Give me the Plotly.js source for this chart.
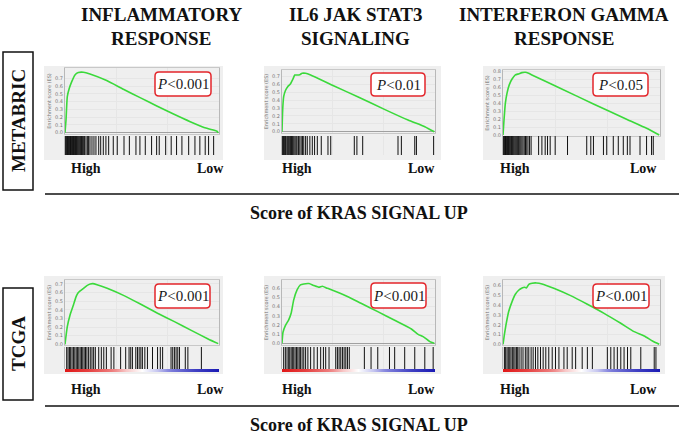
<!DOCTYPE html>
<html><head><meta charset="utf-8">
<script src="https://cdn.plot.ly/plotly-3.0.1.min.js"></script>
<style>html,body{margin:0;padding:0;background:#fff}#chart{width:679px;height:436px}</style>
</head><body><div id="chart"></div>
<script>
// ---------------- DATA ----------------
const columnTitles = [["INFLAMMATORY","RESPONSE"],["IL6 JAK STAT3","SIGNALING"],["INTERFERON GAMMA","RESPONSE"]];
const cohortLabels = ["METABRIC","TCGA"];
const pValueLabels = ["0.001","0.01","0.05","0.001","0.001","0.001"];
const endLabels = ["High","Low"];
const xAxisLabel = "Score of KRAS SIGNAL UP";
const esTickMax = [0.7,0.7,0.8,0.7,0.6,0.6];
const esAxisTitle = "Enrichment score (ES)";

// METABRIC - inflammatory response
const metabricInflamX  = [0,0.0065,0.015,0.028,0.044,0.065,0.087,0.12,0.163,0.272,0.381,0.49,0.599,0.708,0.817,0.926,0.99,1.0];
const metabricInflamES = [0,0.163,0.464,0.571,0.657,0.743,0.773,0.777,0.755,0.670,0.558,0.451,0.344,0.240,0.142,0.056,0.022,0.0];
const metabricInflamHits = [0.004,0.008,0.012,0.016,0.020,0.024,0.028,0.032,0.036,0.040,0.044,0.048,0.052,0.056,0.060,0.064,0.068,0.072,0.076,0.080,0.085,0.090,0.096,0.102,0.108,0.115,0.122,0.128,0.137,0.146,0.154,0.163,0.176,0.189,0.202,0.220,0.233,0.250,0.267,0.285,0.315,0.341,0.385,0.420,0.463,0.489,0.524,0.565,0.598,0.615,0.657,0.693,0.728,0.763,0.807,0.848,0.880,0.915,0.937,0.970];

// METABRIC - IL6 JAK STAT3 signaling
const metabricIL6X  = [0,0.0044,0.011,0.022,0.0375,0.055,0.071,0.084,0.099,0.117,0.132,0.155,0.188,0.342,0.497,0.673,0.828,0.938,1.0];
const metabricIL6ES = [0,0.275,0.445,0.521,0.572,0.606,0.665,0.72,0.72,0.725,0.742,0.742,0.72,0.58,0.445,0.284,0.148,0.064,0.0];
const metabricIL6Hits = [0.004,0.009,0.013,0.018,0.022,0.026,0.033,0.038,0.044,0.051,0.055,0.062,0.068,0.073,0.079,0.086,0.093,0.099,0.108,0.117,0.126,0.135,0.143,0.155,0.166,0.183,0.199,0.214,0.232,0.258,0.302,0.32,0.475,0.492,0.53,0.762,0.784,0.872,0.883,0.996];

// METABRIC - interferon gamma response
const metabricIFNGX  = [0,0.0064,0.015,0.0255,0.040,0.057,0.079,0.10,0.121,0.143,0.164,0.185,0.366,0.579,0.791,0.919,1.0];
const metabricIFNGES = [0,0.189,0.40,0.526,0.632,0.703,0.758,0.771,0.787,0.792,0.779,0.758,0.589,0.392,0.198,0.084,0.0];
const metabricIFNGHits = [0.004,0.008,0.012,0.016,0.020,0.024,0.028,0.032,0.036,0.040,0.045,0.050,0.055,0.060,0.065,0.070,0.076,0.082,0.088,0.094,0.100,0.107,0.114,0.121,0.128,0.136,0.144,0.152,0.160,0.170,0.180,0.228,0.249,0.27,0.285,0.302,0.334,0.413,0.536,0.562,0.579,0.643,0.664,0.706,0.738,0.77,0.796,0.813,0.877,0.919,0.951,0.962];

// TCGA - inflammatory response
const tcgaInflamX  = [0,0.015,0.033,0.055,0.0725,0.0835,0.099,0.121,0.143,0.165,0.182,0.209,0.275,0.385,0.495,0.604,0.714,0.824,0.934,1.0];
const tcgaInflamES = [0,0.205,0.34,0.456,0.553,0.592,0.619,0.65,0.681,0.70,0.704,0.692,0.65,0.565,0.464,0.36,0.263,0.162,0.062,0.008];
const tcgaInflamHits = [0.011,0.02,0.029,0.037,0.046,0.055,0.064,0.073,0.081,0.09,0.099,0.108,0.116,0.125,0.134,0.143,0.154,0.165,0.176,0.187,0.198,0.22,0.237,0.253,0.27,0.301,0.319,0.363,0.396,0.418,0.429,0.44,0.462,0.473,0.484,0.495,0.505,0.521,0.538,0.571,0.604,0.622,0.637,0.692,0.703,0.714,0.725,0.736,0.747,0.785,0.802,0.89];

// TCGA - IL6 JAK STAT3 signaling
const tcgaIL6X  = [0,0.0066,0.022,0.044,0.06,0.077,0.099,0.121,0.143,0.177,0.21,0.243,0.265,0.298,0.408,0.519,0.629,0.74,0.85,0.894,0.927,0.971,1.0];
const tcgaIL6ES = [0,0.12,0.193,0.255,0.327,0.473,0.582,0.636,0.647,0.651,0.629,0.611,0.622,0.60,0.527,0.436,0.345,0.251,0.156,0.098,0.073,0.018,0.0];
const tcgaIL6Hits = [0.011,0.022,0.033,0.044,0.051,0.06,0.068,0.077,0.086,0.095,0.104,0.113,0.121,0.132,0.143,0.155,0.17,0.188,0.21,0.232,0.254,0.272,0.287,0.309,0.353,0.364,0.375,0.386,0.397,0.408,0.419,0.43,0.442,0.541,0.585,0.629,0.706,0.74,0.806,0.872,0.938,0.993];

// TCGA - interferon gamma response
const tcgaIFNGX  = [0,0.0086,0.019,0.036,0.058,0.079,0.10,0.122,0.137,0.15,0.165,0.186,0.214,0.25,0.325,0.433,0.54,0.647,0.754,0.839,0.904,0.957,1.0];
const tcgaIFNGES = [0,0.096,0.198,0.334,0.437,0.512,0.553,0.577,0.584,0.577,0.614,0.625,0.628,0.618,0.573,0.498,0.41,0.317,0.215,0.13,0.085,0.034,0.0];
const tcgaIFNGHits = [0.009,0.017,0.026,0.034,0.043,0.051,0.06,0.069,0.077,0.086,0.094,0.103,0.116,0.128,0.143,0.154,0.165,0.18,0.193,0.208,0.223,0.24,0.257,0.274,0.293,0.315,0.336,0.358,0.39,0.411,0.443,0.465,0.507,0.54,0.572,0.668,0.69,0.711,0.732,0.754,0.775,0.797,0.818,0.882,0.968,0.979];

// ranked-list metric colour strip (TCGA panels)
const rankMetricPos = [0,0.15,0.3,0.4,0.5,0.6,0.7,0.85,1];
const rankMetricVal = [1,0.8,0.5,0.2,0,-0.2,-0.5,-0.8,-1];

// ---------------- LAYOUT GEOMETRY (pixels) ----------------
const W = 679, H = 436;
const PX = v => v / W, PY = v => 1 - v / H;

const panels = [
  {x: metabricInflamX, y: metabricInflamES, hits: metabricInflamHits, col: 0, row: 0, up: [68,134], yr: [-0.017,0.832], box: [155,72,211,96]},
  {x: metabricIL6X,    y: metabricIL6ES,    hits: metabricIL6Hits,    col: 1, row: 0, up: [70,133], yr: [-0.0165,0.784], box: [371,73,425,96]},
  {x: metabricIFNGX,   y: metabricIFNGES,   hits: metabricIFNGHits,   col: 2, row: 0, up: [70,136], yr: [-0.0126,0.82], box: [593,73,648,96]},
  {x: tcgaInflamX,     y: tcgaInflamES,     hits: tcgaInflamHits,     col: 0, row: 1, up: [280,345], yr: [-0.008,0.746], box: [155,284,210,308]},
  {x: tcgaIL6X,        y: tcgaIL6ES,        hits: tcgaIL6Hits,        col: 1, row: 1, up: [280,345], yr: [-0.0185,0.69], box: [371,283,426,308]},
  {x: tcgaIFNGX,       y: tcgaIFNGES,       hits: tcgaIFNGHits,       col: 2, row: 1, up: [280,345], yr: [-0.007,0.658], box: [593,284,649,308]}
];
const colX = [[65,219],[282,435],[503,660]];
const colBg = [[44,223],[264,441],[483,665]];
const rowBar = [[136,155],[347,369]];
const rowBg = [[66,160],[276,374]];
const rowCbar = [null,[369,372]];
const titleCx = [161,355,564];
const highCx = [[86,210],[297,421],[515,643]];
const rowEndY = [168,389];
const rowLineY = [194,406];
const rowLabelY = [213,425];
const cohortBox = [[3,52,33,190],[3,288,33,400]];

const serif = "'Liberation Serif','Times New Roman',Times,serif";
const traces = [];
const layout = {
  width: W, height: H, margin: {l:0,r:0,t:0,b:0},
  paper_bgcolor: '#ffffff', plot_bgcolor: '#ffffff',
  showlegend: false, font: {family: serif, color: '#111'},
  shapes: [], annotations: []
};

function rr(x0,y0,x1,y1,r){
  const X=PX, Y=PY;
  return `M${X(x0+r)},${Y(y0)} L${X(x1-r)},${Y(y0)} Q${X(x1)},${Y(y0)} ${X(x1)},${Y(y0+r)} L${X(x1)},${Y(y1-r)} Q${X(x1)},${Y(y1)} ${X(x1-r)},${Y(y1)} L${X(x0+r)},${Y(y1)} Q${X(x0)},${Y(y1)} ${X(x0)},${Y(y1-r)} L${X(x0)},${Y(y0+r)} Q${X(x0)},${Y(y0)} ${X(x0+r)},${Y(y0)} Z`;
}

panels.forEach((p, i) => {
  const xi = i + 1;
  const yu = 3*i + 1, yb = 3*i + 2, yc = 3*i + 3;
  const xn = 'x' + (xi === 1 ? '' : xi);
  const yun = 'y' + (yu === 1 ? '' : yu), ybn = 'y' + yb, ycn = 'y' + yc;
  const cx = colX[p.col];

  // grey panel background
  layout.shapes.push({type:'rect', xref:'paper', yref:'paper', layer:'below',
    x0: PX(colBg[p.col][0]), x1: PX(colBg[p.col][1]), y0: PY(rowBg[p.row][1]), y1: PY(rowBg[p.row][0]),
    fillcolor:'#efefef', line:{width:0}});

  const ticks = [];
  for (let t = 0; t <= esTickMax[i] + 1e-9; t += 0.1) ticks.push(Math.round(t*10)/10);

  layout['xaxis' + (xi === 1 ? '' : xi)] = {
    domain: [PX(cx[0]), PX(cx[1])], range: [0, 1.005], anchor: yun,
    showticklabels: false, ticks: '', tickvals: [1/3, 2/3], showgrid: true, gridcolor: '#e6e6e6',
    zeroline: false, showline: true, mirror: true, linecolor: '#c8c8c8', linewidth: 1, fixedrange: true
  };
  layout['yaxis' + (yu === 1 ? '' : yu)] = {
    domain: [PY(p.up[1]), PY(p.up[0])], range: p.yr, anchor: xn,
    tickvals: ticks, ticktext: ticks.map(t => t.toFixed(1)), ticks: '',
    tickfont: {size: 5, color: '#777', family: 'DejaVu Sans, sans-serif'},
    showgrid: true, gridcolor: '#e6e6e6', zeroline: true, zerolinecolor: '#a0a0a0', zerolinewidth: 1,
    showline: true, mirror: true, linecolor: '#b8b8b8', linewidth: 1,
    title: {text: esAxisTitle, font: {size: 5, color: '#777', family: 'DejaVu Sans, sans-serif'}, standoff: 3},
    fixedrange: true
  };
  layout['yaxis' + yb] = {
    domain: [PY(rowBar[p.row][1]), PY(rowBar[p.row][0])], range: [0, 1], anchor: xn,
    showticklabels: false, ticks: '', showgrid: false, zeroline: false,
    showline: true, linecolor: '#b8b8b8', linewidth: 1, fixedrange: true
  };

  traces.push({type:'scatter', mode:'lines', x: p.x, y: p.y, xaxis: xn, yaxis: yun,
    line: {color: '#3bd93b', width: 1.6, shape: 'spline', smoothing: 0.5}, hoverinfo: 'skip'});

  const bx = [], by = [];
  p.hits.forEach(h => { bx.push(h, h, null); by.push(0, 1, null); });
  traces.push({type:'scatter', mode:'lines', x: bx, y: by, xaxis: xn, yaxis: ybn,
    line: {color: '#111', width: 1}, hoverinfo: 'skip'});

  if (rowCbar[p.row]) {
    layout['yaxis' + yc] = {
      domain: [PY(rowCbar[p.row][1]), PY(rowCbar[p.row][0])], range: [0, 1], anchor: xn,
      showticklabels: false, ticks: '', showgrid: false, zeroline: false, showline: false, fixedrange: true
    };
    traces.push({type:'heatmap', x: rankMetricPos, y: [0, 1], z: [rankMetricVal, rankMetricVal],
      xaxis: xn, yaxis: ycn, zmin: -1, zmax: 1, zsmooth: 'best', showscale: false, hoverinfo: 'skip',
      colorscale: [[0,'#1a1ab4'],[0.3,'#8c8ce0'],[0.5,'#ffffff'],[0.7,'#f09090'],[1,'#e01818']]});
  }

  // p-value box
  const b = p.box;
  layout.shapes.push({type:'path', xref:'paper', yref:'paper', path: rr(b[0],b[1],b[2],b[3],4),
    fillcolor:'#ffffff', line:{color:'#e3262b', width:1.5}});
  layout.annotations.push({xref:'paper', yref:'paper', x: PX((b[0]+b[2])/2), y: PY((b[1]+b[3])/2),
    xanchor:'center', yanchor:'middle', showarrow:false,
    text: '<i>P</i>&lt;' + pValueLabels[i], font: {family: serif, size: 15, color: '#1a1a1a'}});

  // High / Low
  endLabels.forEach((lab, k) => {
    layout.annotations.push({xref:'paper', yref:'paper', x: PX(highCx[p.col][k]), y: PY(rowEndY[p.row]),
      xanchor:'center', yanchor:'middle', showarrow:false,
      text: '<b>' + lab + '</b>', font: {family: serif, size: 14, color: '#111'}});
  });
});

// column titles
columnTitles.forEach((lines, c) => {
  lines.forEach((t, k) => {
    layout.annotations.push({xref:'paper', yref:'paper', x: PX(titleCx[c]), y: PY(k === 0 ? 15 : 38),
      xanchor:'center', yanchor:'middle', showarrow:false,
      text: '<b>' + t + '</b>', font: {family: serif, size: 19, color: '#111'}});
  });
});

// cohort labels and boxes, separator lines, x labels
cohortLabels.forEach((lab, r) => {
  const bb = cohortBox[r];
  layout.shapes.push({type:'rect', xref:'paper', yref:'paper', x0: PX(bb[0]), x1: PX(bb[2]), y0: PY(bb[3]), y1: PY(bb[1]),
    line: {color:'#111', width: 1.5}, fillcolor: 'rgba(0,0,0,0)'});
  layout.annotations.push({xref:'paper', yref:'paper', x: PX((bb[0]+bb[2])/2), y: PY((bb[1]+bb[3])/2),
    xanchor:'center', yanchor:'middle', showarrow:false, textangle: -90,
    text: '<b>' + lab + '</b>', font: {family: serif, size: 19, color: '#111'}});
  layout.shapes.push({type:'line', xref:'paper', yref:'paper', x0: PX(45), x1: PX(679), y0: PY(rowLineY[r]), y1: PY(rowLineY[r]),
    line: {color:'#111', width: 1.5}});
  layout.annotations.push({xref:'paper', yref:'paper', x: PX(359), y: PY(rowLabelY[r]),
    xanchor:'center', yanchor:'middle', showarrow:false,
    text: '<b>' + xAxisLabel + '</b>', font: {family: serif, size: 18, color: '#111'}});
});

Plotly.newPlot('chart', traces, layout, {staticPlot: true, displayModeBar: false});
</script>
</body></html>
